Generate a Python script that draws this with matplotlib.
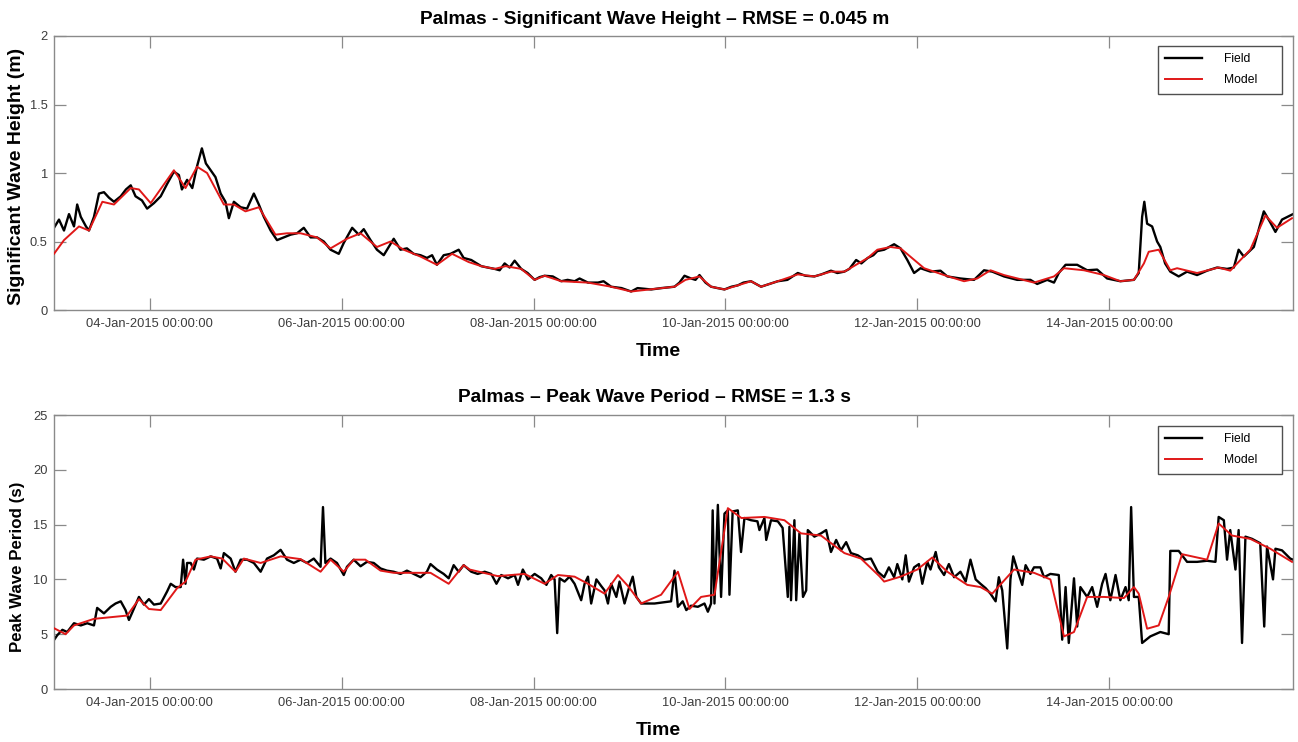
import numpy as np
import matplotlib
matplotlib.use("Agg")
import matplotlib.pyplot as plt
import matplotlib.dates as mdates

plt.rcParams['font.family'] = ['Liberation Sans', 'DejaVu Sans']

START = np.datetime64('2015-01-03T00:00')
END_HOUR = 310

# ---------------- Significant wave height (m) ----------------
hs_field_hours = [0, 1.25, 2.5, 3.75, 5, 5.8, 6.7, 8, 8.75, 10, 11.25, 12.5, 13.75, 15, 16.7, 18, 19.2,
                  20.4, 22, 23.3, 25, 26.7, 28.3, 30, 31.25, 32, 33.3, 34.6, 35.8, 37, 38, 39.2, 40.4,
                  41.7, 42.9, 43.75, 45, 46.7, 48.3, 50, 51.25, 52.5, 54.2, 55.8, 57.5, 59.2, 60.8, 62.5,
                  64.2, 65.8, 67.5, 69.2, 71.25, 72.5, 74.6, 76.25, 77.5, 79.2, 80.8, 82.5, 83.75, 85,
                  86.7, 88.3, 90, 91.7, 93.3, 94.6, 95.8, 97.5, 99.2, 101.25, 102.5,
                  104.4, 106.9, 108.5, 110.25, 111.5, 112.75, 114, 115.25, 116.9, 118.5, 120.25, 121.5,
                  122.75, 124.8, 126.9, 128.5, 130.25, 131.5, 133.6, 136.1, 137.5, 139.4, 142, 144.4,
                  146, 149.4, 152, 155.25, 156.5, 157.75, 159.4, 160.5, 161.5, 163, 164.4, 166, 167.75,
                  169.5, 171.1, 172.5, 174.4, 176.9, 179, 181.1, 183.5, 186.1, 188, 190.25, 192, 194.4,
                  196, 197.75, 199, 200.7, 202, 203.6, 205, 206,
                  207.7, 210.2, 211.8, 213.5, 215.2, 216.8, 219.3, 221.8, 223.5, 226.8, 230.2, 232.7,
                  234.75, 237.7, 241, 244.3, 246, 248.5, 250.2, 251.4, 253.1, 256, 258.5, 261, 263.5,
                  266.8, 270.2, 271.4, 272.25, 272.8, 273.5, 274.75, 276, 276.8, 278, 279.3, 281.4,
                  283.5, 286, 288.5, 291, 293.5, 295.2, 296.4, 297.7, 300.2, 302.7, 304.3, 305.6,
                  307.25, 309.3, 310]
hs_field = [0.60, 0.66, 0.58, 0.70, 0.61, 0.77, 0.68, 0.61, 0.58, 0.68, 0.85, 0.86, 0.82, 0.79, 0.83,
            0.88, 0.91, 0.83, 0.80, 0.74, 0.78, 0.83, 0.92, 1.01, 0.985, 0.88, 0.95, 0.89, 1.05, 1.18,
            1.07, 1.02, 0.97, 0.85, 0.79, 0.67, 0.79, 0.75, 0.74, 0.85, 0.77, 0.68, 0.58, 0.51, 0.53,
            0.55, 0.56, 0.60, 0.53, 0.53, 0.50, 0.44, 0.41, 0.49, 0.60, 0.55, 0.59, 0.51, 0.44, 0.40,
            0.46, 0.52, 0.44, 0.45, 0.41, 0.40, 0.38, 0.40, 0.33, 0.40, 0.41, 0.44, 0.38,
            0.365, 0.32, 0.31, 0.30, 0.29, 0.34, 0.31, 0.36, 0.30, 0.27, 0.22, 0.24,
            0.25, 0.245, 0.21, 0.22, 0.21, 0.23, 0.20, 0.20, 0.21, 0.17, 0.16, 0.135,
            0.16, 0.15, 0.16, 0.17, 0.20, 0.25, 0.23, 0.22, 0.255, 0.20, 0.17, 0.16, 0.15,
            0.17, 0.18, 0.20, 0.21, 0.17, 0.19, 0.21, 0.22, 0.27, 0.25, 0.245, 0.26, 0.287,
            0.27, 0.28, 0.30, 0.365, 0.34, 0.38, 0.40, 0.43,
            0.44, 0.48, 0.45, 0.365, 0.27, 0.305, 0.28, 0.287, 0.245, 0.23, 0.22, 0.29,
            0.28, 0.245, 0.22, 0.22, 0.19, 0.22, 0.20, 0.27, 0.33, 0.33, 0.29, 0.295, 0.23,
            0.21, 0.22, 0.27, 0.68, 0.79, 0.63, 0.61, 0.50, 0.46, 0.34, 0.28, 0.245,
            0.28, 0.255, 0.287, 0.31, 0.30, 0.31, 0.44, 0.39, 0.46, 0.72, 0.64, 0.57,
            0.66, 0.69, 0.70]

hs_model_hours = [0, 2.5, 6.25, 8.75, 12.1, 15, 19.2, 21.25, 24.2, 27.1, 30, 32.9, 35.8, 38.3, 42.5,
                  45, 47.9, 51.25, 55.4, 58.3, 61.7, 65.8, 69.2, 73.3, 76.7, 80.8, 84.2, 87.5, 91.7,
                  95.8, 99.6, 103.75, 106.9, 110.25, 113, 116.9, 120.25, 122.75, 126.9, 133.6, 139.4,
                  144.4, 155.25, 158, 161.5, 164.4, 167.75, 171.1, 174.4, 176.9, 181.1, 186.1, 190.25,
                  194.4, 197.75, 203.6, 206, 209.3, 211.8, 217.7, 222.7, 227.7, 231, 234.3, 237.7,
                  245.2, 250.2, 252.7, 257.7, 262.7, 266.8, 270.2, 272.7, 273.9, 276.4, 279.3, 281,
                  286, 291.4, 294.3, 299.3, 303.1, 306, 309.75]
hs_model = [0.41, 0.51, 0.61, 0.58, 0.79, 0.77, 0.89, 0.88, 0.78, 0.90, 1.02, 0.89, 1.046, 1.00, 0.77,
            0.77, 0.72, 0.75, 0.55, 0.56, 0.56, 0.53, 0.45, 0.52, 0.56, 0.46, 0.50, 0.44, 0.39,
            0.33, 0.41, 0.35, 0.32, 0.30, 0.32, 0.30, 0.22, 0.25, 0.21, 0.20, 0.17,
            0.135, 0.17, 0.22, 0.245, 0.17, 0.15, 0.18, 0.21, 0.17, 0.21, 0.26, 0.245,
            0.28, 0.28, 0.38, 0.44, 0.46, 0.45, 0.305, 0.255, 0.21, 0.23, 0.29, 0.255,
            0.20, 0.245, 0.305, 0.29, 0.255, 0.21, 0.22, 0.34, 0.425, 0.44, 0.29, 0.305,
            0.27, 0.31, 0.287, 0.44, 0.69, 0.60, 0.67]

# ---------------- Peak wave period (s) ----------------
tp_field_hours = [0, 0.8, 2.1, 3.3, 5, 6.7, 8.3, 10, 10.8, 12.5, 14.2, 15.4, 16.7, 17.9, 18.75, 19.6,
                  21.25, 22.5, 23.75, 25, 26.7, 28.3, 29.2, 30.4, 31.7, 32.3, 32.9, 33.3, 34.2, 35,
                  35.8, 37.5, 39.2, 40.8, 41.7, 42.5, 44.2, 45.4, 46.7, 48.3, 50, 51.7, 53.3, 55, 56.7,
                  58.3, 60, 61.7, 63.3, 65, 66.7, 67.3, 67.9, 69.2, 70.8, 72.5, 73.3, 75, 76.7, 78.3,
                  80, 81.7, 83.3, 85, 86.7, 88.3, 90, 91.7, 93.3, 94.2, 95.8, 97.5, 98.75, 100, 101.25,
                  102.5, 104.4, 106, 107.75, 109.4, 110.7, 111.9, 113.6, 115.25, 116.1, 117.3, 118.6,
                  120.25, 121.9, 123.2, 124.4, 125.25, 125.9, 126.5, 127.75, 129, 130.25, 131.9, 132.75,
                  133.6, 134.4, 135.7, 136.9, 137.75, 138.6, 139.4, 140.7, 141.5, 142.75, 144, 144.8,
                  145.7, 146.9, 150.25, 154.4, 155.25, 156.1, 157.3, 158.2, 159.4, 161.1, 162.75,
                  163.6, 164.4, 164.8, 165.25, 166.1, 166.9, 167.75, 168.6, 169, 169.8, 171.1, 171.9,
                  172.75, 174.4, 176, 176.5, 177.75, 178.2, 179.4, 181.1, 182.3, 183.6, 184, 184.4,
                  185.25, 185.7, 186.5, 187.4, 188.2, 188.6, 190.25, 191.9, 193.2, 194.4, 195.7, 196.9,
                  198.2, 199.4, 201.1, 202.75, 204.4, 206.1, 207.7, 208.9, 210.2, 211, 212.25, 213.1,
                  213.9, 215.2, 216.4, 217.25, 218.5, 219.3, 220.6, 221.4, 222.7, 223.9, 225.2, 226.8,
                  228.1, 229.3, 230.6, 231.8, 233.1, 234.3, 235.6, 236.4, 237.25, 238.5, 239.3, 240,
                  241, 242.25, 243.1, 244.3, 245.2, 246.8, 247.7, 249.3, 251.4, 252.25, 253.1, 253.9,
                  255.2, 256, 256.8, 258.5, 259.75, 261, 262.25, 263.1, 264.3, 265.6, 266.8, 268.1,
                  268.9, 269.5, 270.2, 271.4, 272.25, 274.3, 276.8, 278.9, 279.3, 281.4, 283.5, 286,
                  288.5, 290.6, 291.4, 292.7, 293.5, 294.3, 295.6, 296.4, 297.25, 298.1, 299.75, 301.8,
                  302.8, 303.5, 305, 305.6, 307.25, 309.3, 310]
tp_field = [4.47, 4.9, 5.4, 5.2, 6.0, 5.8, 6.0, 5.8, 7.4, 6.9, 7.5, 7.8, 8.0, 7.2, 6.3, 7.0,
            8.4, 7.7, 8.2, 7.7, 7.8, 8.9, 9.6, 9.3, 9.3, 11.8, 9.6, 11.5, 11.5, 10.9,
            11.9, 11.8, 12.1, 11.9, 11.0, 12.4, 11.9, 10.7, 11.8, 11.8, 11.5, 10.7, 11.9, 12.2, 12.7,
            11.8, 11.5, 11.8, 11.5, 11.9, 11.15, 16.6, 11.5, 11.9, 11.5, 10.4, 11.15, 11.8, 11.2, 11.6,
            11.5, 11.0, 10.8, 10.7, 10.5, 10.8, 10.5, 10.2, 10.7, 11.4, 10.9, 10.5, 10.1, 11.3, 10.7,
            11.3, 10.7, 10.5, 10.7, 10.5, 9.6, 10.4, 10.1, 10.4, 9.5, 10.9, 10.0,
            10.5, 10.1, 9.5, 10.4, 10.0, 5.1, 10.1, 9.8, 10.25, 9.6, 8.1, 9.6,
            10.25, 7.8, 10.0, 9.4, 9.0, 7.8, 9.6, 8.4, 9.8, 7.8, 9.4, 10.25,
            8.4, 7.8, 7.8, 8.0, 10.8, 7.5, 8.0, 7.2, 7.6, 7.5, 7.8,
            7.05, 7.8, 16.3, 7.8, 16.8, 8.4, 16.0, 16.3, 8.6, 16.2, 16.3, 12.5,
            15.6, 15.4, 15.3, 14.5, 15.6, 13.6, 15.4, 15.3, 14.7, 8.4, 14.8, 8.1,
            15.4, 8.1, 14.2, 8.4, 9.0, 14.5, 13.9, 14.2, 14.5, 12.5, 13.6, 12.65,
            13.4, 12.4, 12.2, 11.8, 11.9, 10.7, 10.2, 11.1, 10.2, 11.4, 10.0, 12.2,
            9.8, 11.1, 11.4, 9.6, 11.6, 10.9, 12.5, 11.1, 10.4, 11.4, 10.2, 10.7,
            9.8, 11.8, 10.0, 9.6, 9.2, 8.7, 8.0, 10.2, 9.0, 3.7, 10.0, 12.1,
            10.9, 9.5, 11.3, 10.5, 11.1, 11.1, 10.2, 10.5, 10.4, 4.5, 9.3, 4.2,
            10.1, 5.7, 9.3, 8.4, 9.3, 7.5, 9.6, 10.5, 8.1, 10.4, 8.1, 9.3,
            8.1, 16.6, 8.4, 8.4, 4.2, 4.8, 5.2, 5.0, 12.6, 12.6, 11.6, 11.6,
            11.7, 11.6, 15.7, 15.4, 11.8, 14.5, 10.9, 14.5, 4.2, 13.9, 13.7, 13.3,
            5.7, 13.0, 10.0, 12.8, 12.65, 11.9, 11.8]

tp_model_hours = [0, 2.9, 5, 10, 18.3, 21.25, 23.75, 26.7, 30.8, 32.9, 35.4, 39.2, 42.1, 45.4, 47.5,
                  51.7, 56.7, 61.7, 66.7, 69.2, 72.5, 75, 77.9, 81.7, 85, 94.2, 98.75, 102.5, 104, 111,
                  117.75, 122.75, 126.1, 130.25, 133.6, 137.75, 141.1, 143.6, 146.9, 151.9, 156.1, 159,
                  161.9, 165.25, 168.6, 172, 177.75, 182.75, 186.9, 191.9, 197.75, 201.9, 206.5, 207.7,
                  211.8, 216, 219.75, 223.5, 228.5, 231.8, 234.75, 240.2, 245.2, 249.3, 252.7, 255.2,
                  258.5, 262.7, 267.7, 270.2, 271.4, 273.5, 276.4, 278.9, 282.25, 288.5, 291.4, 294.75,
                  299.3, 304.3, 309.75]
tp_model = [5.55, 5.0, 5.8, 6.4, 6.7, 8.2, 7.3, 7.2, 9.2, 9.8, 11.8, 12.1, 11.9, 10.7, 11.9,
            11.5, 12.1, 11.85, 10.7, 11.8, 10.7, 11.8, 11.8, 10.8, 10.6, 10.6, 9.6, 11.3, 10.9, 10.3,
            10.5, 9.6, 10.4, 10.25, 9.6, 8.7, 10.4, 9.4, 7.8, 8.6, 10.7, 7.3,
            8.4, 8.6, 16.5, 15.6, 15.7, 15.4, 14.2, 14.0, 12.4, 11.9, 10.3, 9.8,
            10.25, 10.9, 12.0, 10.7, 9.5, 9.3, 8.7, 10.9, 10.6, 10.0, 4.8, 5.2,
            8.4, 8.4, 8.3, 9.3, 8.7, 5.5, 5.8, 8.4, 12.3, 11.8, 15.1, 14.0,
            13.7, 12.8, 11.6]

titles = ["Palmas - Significant Wave Height \u2013 RMSE = 0.045 m",
          "Palmas \u2013 Peak Wave Period \u2013 RMSE = 1.3 s"]
ylabels = ["Significant Wave Height (m)", "Peak Wave Period (s)"]
ylabel_sizes = [14, 12.2]
ylabel_ypos = [0.489, 0.445]
yticks = [[0, 0.5, 1, 1.5, 2], [0, 5, 10, 15, 20, 25]]
yticklabels = [["0", "0.5", "1", "1.5", "2"], ["0", "5", "10", "15", "20", "25"]]
ylims = [(0, 2), (0, 25)]
legend_labels = ["Field", "Model"]


def to_time(hours):
    return START + (np.asarray(hours) * 60).round().astype('timedelta64[m]')


W, H = 1298, 742
fig = plt.figure(figsize=(W / 100, H / 100), dpi=100)
ax_boxes = [(36, 310), (415, 689)]
leg_boxes = [(46, 94), (426, 473)]
axes = []
for top, bot in ax_boxes:
    axes.append(fig.add_axes([54 / W, 1 - bot / H, (1293 - 54) / W, (bot - top) / H]))

spine_col = '#8a8a8a'
tick_col = '#3c3c3c'
series = [(hs_field_hours, hs_field, hs_model_hours, hs_model),
          (tp_field_hours, tp_field, tp_model_hours, tp_model)]

for i, ax in enumerate(axes):
    fh, fv, mh, mv = series[i]
    ax.plot(to_time(fh), fv, color='black', lw=1.7, label=legend_labels[0], zorder=2)
    ax.plot(to_time(mh), mv, color='#e01818', lw=1.4, label=legend_labels[1], zorder=3)
    ax.set_xlim(START, to_time([END_HOUR])[0])
    ax.set_ylim(*ylims[i])
    ax.set_yticks(yticks[i])
    ax.set_yticklabels(yticklabels[i])
    ax.xaxis.set_major_locator(mdates.DayLocator(bymonthday=[4, 6, 8, 10, 12, 14]))
    ax.xaxis.set_major_formatter(mdates.DateFormatter('%d-%b-%Y %H:%M:%S'))
    ax.tick_params(direction='in', top=True, right=True, length=8.5, width=0.9,
                   color=spine_col, labelcolor=tick_col, labelsize=9.3)
    ax.tick_params(axis='x', pad=6.0)
    ax.tick_params(axis='y', pad=4.5)
    for s in ax.spines.values():
        s.set_color(spine_col)
        s.set_linewidth(1.0)
    ax.set_title(titles[i], fontsize=13.8, fontweight='bold', pad=9, x=0.485)
    ax.set_xlabel("Time", fontsize=14, fontweight='bold')
    ax.xaxis.set_label_coords(0.488, -0.122)
    ax.set_ylabel(ylabels[i], fontsize=ylabel_sizes[i], fontweight='bold')
    ax.yaxis.set_label_coords(-0.0234, ylabel_ypos[i])
    top, bot = ax_boxes[i]
    lt, lb = leg_boxes[i]
    hgt = bot - top
    x0 = (1158 - 54) / 1239
    wd = 124 / 1239
    y0 = (bot - lb) / hgt
    hh = (lb - lt) / hgt
    leg = ax.legend(loc='upper left', bbox_to_anchor=(x0, y0, wd, hh), mode='expand', fontsize=8.7,
                    handlelength=3.0, handletextpad=1.9, borderpad=0.6, labelspacing=0.75,
                    fancybox=False, framealpha=1, edgecolor='#505050', borderaxespad=0)
    leg.get_frame().set_linewidth(1.0)

fig.savefig("out.png", dpi=100)
